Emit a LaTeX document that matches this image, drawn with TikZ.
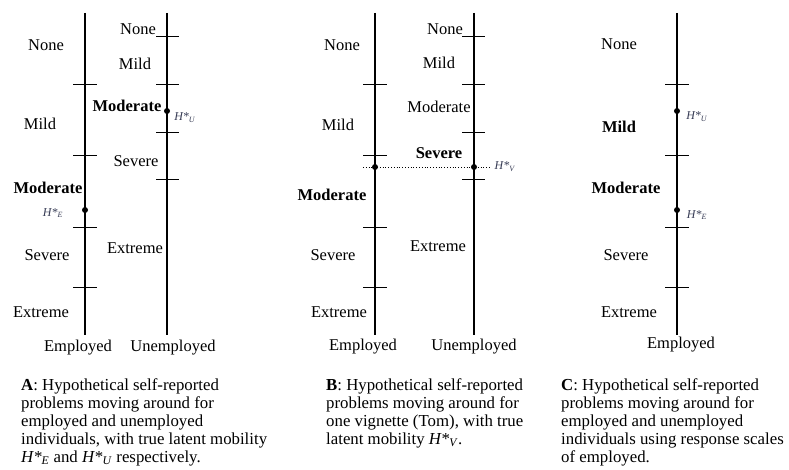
\documentclass[tikz,border=0pt]{standalone}
\usepackage{fontspec}
\setmainfont{Liberation Serif}
\usetikzlibrary{positioning}
\definecolor{hcol}{RGB}{55,60,85}

\begin{document}
\begin{tikzpicture}[x=1pt,y=-1pt,
            scaleline/.style={line width=1.3pt},
            tickmark/.style={line width=1pt},
            lbl/.style={font=\fontsize{16.5}{19}\selectfont,inner sep=0pt},
            blbl/.style={font=\fontsize{16.5}{19}\selectfont\bfseries,inner sep=0pt},
            hlbl/.style={font=\fontsize{12}{14}\selectfont,text=hcol,inner sep=0pt},
            hdot/.style={circle,fill=black,inner sep=0pt,minimum size=6pt},
            capt/.style={font=\fontsize{16.8}{18}\selectfont,align=left,anchor=north west,inner sep=0pt}]
            \useasboundingbox (0,0) rectangle (789,470);

            % panel A
            \coordinate (aetop) at (85,13);  \coordinate (aebot) at (85,335);
            \coordinate (autop) at (167,13); \coordinate (aubot) at (167,335);
            \draw[scaleline] (aetop) -- (aebot);
            \draw[scaleline] (autop) -- (aubot);
            \foreach \y in {85,156,228,287} \draw[tickmark] (73,\y) -- (97,\y);
            \foreach \y in {37,85,133,180} \draw[tickmark] (156,\y) -- (179,\y);
            \node[hdot] (ahe) at (85,210) {};
            \node[hdot] (ahu) at (167,111) {};
            \node[lbl]  (aenone) at (46,45)  {None};
            \node[lbl]  (aemild) at (40,124) {Mild};
            \node[blbl] (aemod)  at (48,188) {Moderate};
            \node[hlbl] (aehe)   at (53,213) {\textit{H*}\textsubscript{\textit{E}}};
            \node[lbl]  (aesev)  at (47,255) {Severe};
            \node[lbl]  (aeext)  at (41,312) {Extreme};
            \node[lbl]  (aunone) at (138,29) {None};
            \node[lbl]  (aumild) at (135,64) {Mild};
            \node[blbl] (aumod)  at (127,106) {Moderate};
            \node[hlbl] (auhu)   at (185,118) {\textit{H*}\textsubscript{\textit{U}}};
            \node[lbl]  (ausev)  at (136,161) {Severe};
            \node[lbl]  (auext)  at (135,248) {Extreme};
            \node[lbl]  (aemp)   at (78,348)  {Employed};
            \node[lbl]  (aunemp) at (173,348) {Unemployed};

            % panel B
            \coordinate (betop) at (375,13);  \coordinate (bebot) at (375,335);
            \coordinate (butop) at (474,13);  \coordinate (bubot) at (474,335);
            \draw[scaleline] (betop) -- (bebot);
            \draw[scaleline] (butop) -- (bubot);
            \foreach \y in {85,156,228,287} \draw[tickmark] (363,\y) -- (387,\y);
            \foreach \y in {37,85,133,180} \draw[tickmark] (462,\y) -- (485,\y);
            \coordinate (bvl) at (363,167);
            \coordinate (bvr) at (491,167);
            \draw[dotted,line width=0.8pt] (bvl) -- (bvr);
            \node[hdot] (bve) at (375,167) {};
            \node[hdot] (bvu) at (474,167) {};
            \node[hlbl] (bhv) at (505,167) {\textit{H*}\textsubscript{\textit{V}}};
            \node[lbl]  (benone) at (342,45)  {None};
            \node[lbl]  (bemild) at (338,125) {Mild};
            \node[blbl] (bemod)  at (332,195) {Moderate};
            \node[lbl]  (besev)  at (333,255) {Severe};
            \node[lbl]  (beext)  at (339,312) {Extreme};
            \node[lbl]  (bunone) at (445,29)  {None};
            \node[lbl]  (bumild) at (439,63)  {Mild};
            \node[lbl]  (bumod)  at (439,107) {Moderate};
            \node[blbl] (busev)  at (439,153) {Severe};
            \node[lbl]  (buext)  at (438,246) {Extreme};
            \node[lbl]  (bemp)   at (363,347) {Employed};
            \node[lbl]  (bunemp) at (474,347) {Unemployed};

            % panel C
            \coordinate (cetop) at (677,13); \coordinate (cebot) at (677,335);
            \draw[scaleline] (cetop) -- (cebot);
            \foreach \y in {85,156,228,287} \draw[tickmark] (665,\y) -- (689,\y);
            \node[hdot] (chu) at (677,111) {};
            \node[hdot] (che) at (677,210) {};
            \node[hlbl] (chul) at (697,117) {\textit{H*}\textsubscript{\textit{U}}};
            \node[hlbl] (chel) at (697,215) {\textit{H*}\textsubscript{\textit{E}}};
            \node[lbl]  (cnone) at (619,44)  {None};
            \node[blbl] (cmild) at (619,127) {Mild};
            \node[blbl] (cmod)  at (626,188) {Moderate};
            \node[lbl]  (csev)  at (626,255) {Severe};
            \node[lbl]  (cext)  at (629,312) {Extreme};
            \node[lbl]  (cemp)  at (681,345) {Employed};

            % captions
            \node[capt] (capa) at (21,378) {\textbf{A}: Hypothetical self-reported\\ problems moving around for\\ employed and unemployed\\ individuals, with true latent mobility\\ \textit{H*}\textsubscript{\textit{E}} and \textit{H*}\textsubscript{\textit{U}} respectively.};
            \node[capt] (capb) at (326,378) {\textbf{B}: Hypothetical self-reported\\ problems moving around for\\ one vignette (Tom), with true\\ latent mobility \textit{H*}\textsubscript{\textit{V}}.};
            \node[capt] (capc) at (561,378) {\textbf{C}: Hypothetical self-reported\\ problems moving around for\\ employed and unemployed\\ individuals using response scales\\ of employed.};
         \end{tikzpicture}
\end{document}
